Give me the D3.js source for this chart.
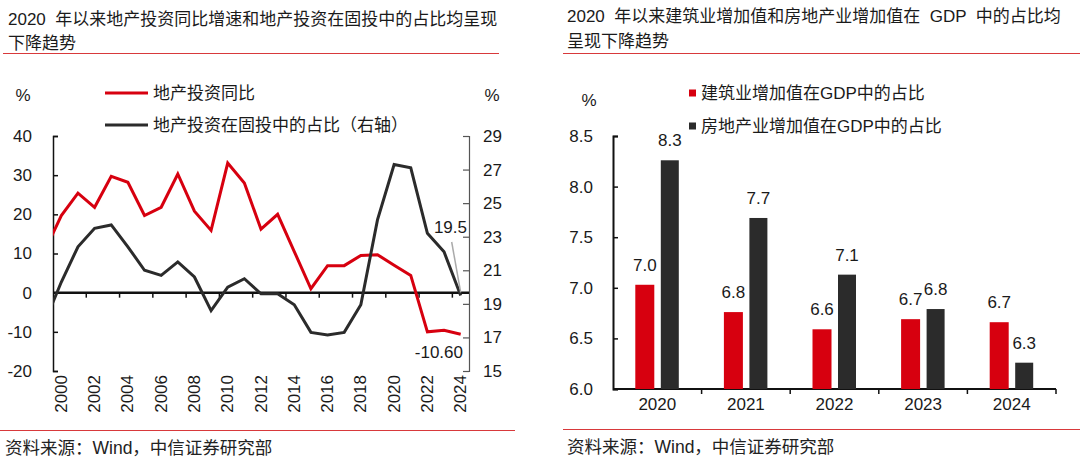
<!DOCTYPE html>
<html>
<head>
<meta charset="utf-8">
<script src="https://cdn.jsdelivr.net/npm/d3@7"></script>
<style>
  html, body { margin: 0; padding: 0; background: #fff; }
  svg { display: block; font-family: "Liberation Sans", Arial, "Noto Sans CJK SC", sans-serif; }
</style>
</head>
<body>
<svg id="chart" width="1080" height="464"></svg>
<script>
// ---------- Data: left chart ----------
const years = [1999,2000,2001,2002,2003,2004,2005,2006,2007,2008,2009,2010,2011,2012,2013,2014,2015,2016,2017,2018,2019,2020,2021,2022,2023,2024];
const invGrowth = [10.6,19.7,25.4,21.8,29.7,28.2,19.7,21.8,30.3,20.8,15.9,33.1,28.0,16.2,20.0,10.5,1.0,6.9,6.9,9.5,9.7,7.0,4.4,-10.0,-9.6,-10.6];
const invShare = [17.9,20.3,22.4,23.5,23.7,22.4,21.0,20.7,21.5,20.6,18.6,20.0,20.5,19.6,19.6,18.95,17.3,17.15,17.3,18.95,24.0,27.3,27.1,23.2,22.1,19.5];
const xLabelYears = [2000,2002,2004,2006,2008,2010,2012,2014,2016,2018,2020,2022,2024];
const leftTicks = [-20,-10,0,10,20,30,40];
const rightTicks = [15,17,19,21,23,25,27,29];
const leftTitle = ["2020  年以来地产投资同比增速和地产投资在固投中的占比均呈现", "下降趋势"];
const leftLegend = ["地产投资同比", "地产投资在固投中的占比（右轴）"];

// ---------- Data: right chart ----------
const barYears = ["2020","2021","2022","2023","2024"];
const constructionShare = [7.03,6.76,6.59,6.69,6.66];
const realEstateShare = [8.26,7.69,7.13,6.79,6.26];
const barTicks = [6.0,6.5,7.0,7.5,8.0,8.5];
const rightTitle = ["2020  年以来建筑业增加值和房地产业增加值在  GDP  中的占比均", "呈现下降趋势"];
const rightLegend = ["建筑业增加值在GDP中的占比", "房地产业增加值在GDP中的占比"];
const sourceText = "资料来源：Wind，中信证券研究部";

const RED = "#d7000f", DARK = "#2b2b2b", RULE = "#d8393b", TXT = "#1a1a1a";
const svg = d3.select("#chart");

// ---------- Titles, rules, sources ----------
function titleBlock(x, lines, y0) {
  lines.forEach((t, i) => {
    svg.append("text").attr("x", x).attr("y", y0 + i * 24.5)
      .attr("font-size", 17).attr("fill", TXT).style("white-space", "pre").text(t);
  });
}
titleBlock(8, leftTitle, 24.5);
titleBlock(567, rightTitle, 22);
svg.append("line").attr("x1", 3).attr("x2", 499).attr("y1", 53.5).attr("y2", 53.5).attr("stroke", RULE).attr("stroke-width", 1.2);
svg.append("line").attr("x1", 563).attr("x2", 1080).attr("y1", 53.5).attr("y2", 53.5).attr("stroke", RULE).attr("stroke-width", 1.2);
svg.append("line").attr("x1", 0).attr("x2", 515).attr("y1", 430.5).attr("y2", 430.5).attr("stroke", RULE).attr("stroke-width", 1.2);
svg.append("line").attr("x1", 563).attr("x2", 1080).attr("y1", 429.5).attr("y2", 429.5).attr("stroke", RULE).attr("stroke-width", 1.2);
svg.append("text").attr("x", 5).attr("y", 454).attr("font-size", 17.5).attr("fill", "#222").text(sourceText);
svg.append("text").attr("x", 567).attr("y", 453).attr("font-size", 17.5).attr("fill", "#222").text(sourceText);

// ---------- Left chart ----------
const L = { left: 53, right: 469, top: 136, bottom: 371 };
const x = d3.scaleLinear().domain([1999.5, 2024.5]).range([L.left, L.right]);
const yL = d3.scaleLinear().domain([-20, 40]).range([L.bottom, L.top]);
const yR = d3.scaleLinear().domain([15, 29]).range([L.bottom, L.top]);

svg.append("defs").append("clipPath").attr("id", "clipL")
  .append("rect").attr("x", L.left).attr("y", 0).attr("width", L.right - L.left).attr("height", 464);

// left y axis
const gyl = svg.append("g").attr("transform", `translate(${L.left},0)`)
  .call(d3.axisLeft(yL).tickValues(leftTicks).tickSize(-5).tickPadding(21).tickFormat(d => String(d)));
gyl.select(".domain").attr("stroke", "#111").attr("stroke-width", 1.5);
gyl.selectAll(".tick line").attr("stroke", "#111").attr("stroke-width", 1.5);
gyl.selectAll("text").attr("font-size", 17).attr("fill", TXT).attr("font-family", "Liberation Sans, Arial");

// right y axis
const gyr = svg.append("g").attr("transform", `translate(${L.right},0)`)
  .call(d3.axisRight(yR).tickValues(rightTicks).tickSize(-6).tickPadding(14).tickFormat(d => String(d)));
gyr.select(".domain").attr("stroke", "#555").attr("stroke-width", 1.2);
gyr.selectAll(".tick line").attr("stroke", "#555").attr("stroke-width", 1.2);
gyr.selectAll("text").attr("font-size", 17).attr("fill", TXT).attr("font-family", "Liberation Sans, Arial");

// x axis at zero
const y0 = yL(0);
svg.append("line").attr("x1", L.left).attr("x2", L.right).attr("y1", y0).attr("y2", y0)
  .attr("stroke", "#111").attr("stroke-width", 2.5);
svg.selectAll(".xtick").data(xLabelYears.slice(0, -1)).enter().append("line")
  .attr("x1", d => x(d + 1.5)).attr("x2", d => x(d + 1.5))
  .attr("y1", y0).attr("y2", y0 + 5).attr("stroke", "#111").attr("stroke-width", 1.5);
svg.selectAll(".xlab").data(xLabelYears).enter().append("text")
  .attr("transform", d => `translate(${x(d)},375) rotate(-90)`)
  .attr("text-anchor", "end").attr("dominant-baseline", "central")
  .attr("font-size", 17).attr("fill", TXT).text(d => d);

// lines
const lineL = d3.line().x((d, i) => x(years[i])).y(d => yL(d));
const lineR = d3.line().x((d, i) => x(years[i])).y(d => yR(d));
const gLines = svg.append("g").attr("clip-path", "url(#clipL)");
gLines.append("path").attr("d", lineL(invGrowth)).attr("fill", "none")
  .attr("stroke", RED).attr("stroke-width", 3).attr("stroke-linejoin", "miter");
gLines.append("path").attr("d", lineR(invShare)).attr("fill", "none")
  .attr("stroke", DARK).attr("stroke-width", 3).attr("stroke-linejoin", "miter");

// annotations
const lastI = years.length - 1;
svg.append("line").attr("x1", x(years[lastI]) - 9).attr("y1", 242)
  .attr("x2", x(years[lastI])).attr("y2", yR(invShare[lastI]) - 3)
  .attr("stroke", "#aaa").attr("stroke-width", 1.5);
svg.append("text").attr("x", 467).attr("y", 233).attr("text-anchor", "end")
  .attr("font-size", 17).attr("fill", TXT).text(invShare[lastI].toFixed(1));
svg.append("text").attr("x", 463).attr("y", 358).attr("text-anchor", "end")
  .attr("font-size", 17).attr("fill", TXT).text(invGrowth[lastI].toFixed(2));

// units
svg.append("text").attr("x", 23).attr("y", 101).attr("text-anchor", "middle").attr("font-size", 17).attr("fill", TXT).text("%");
svg.append("text").attr("x", 492).attr("y", 101).attr("text-anchor", "middle").attr("font-size", 17).attr("fill", TXT).text("%");

// legend
[[RED, 93], [DARK, 125]].forEach(([c, yy], i) => {
  svg.append("line").attr("x1", 105).attr("x2", 148).attr("y1", yy).attr("y2", yy).attr("stroke", c).attr("stroke-width", 3);
  svg.append("text").attr("x", 153).attr("y", yy + 6).attr("font-size", 17).attr("fill", TXT).text(leftLegend[i]);
});

// ---------- Right chart ----------
const B = { left: 613, right: 1056, top: 136, bottom: 389 };
const xb = d3.scaleBand().domain(barYears).range([B.left, B.right]).padding(0);
const yb = d3.scaleLinear().domain([6.0, 8.5]).range([B.bottom, B.top]);

const gyb = svg.append("g").attr("transform", `translate(${B.left},0)`)
  .call(d3.axisLeft(yb).tickValues(barTicks).tickSize(-5).tickPadding(20).tickFormat(d3.format(".1f")));
gyb.select(".domain").attr("stroke", "#111").attr("stroke-width", 2);
gyb.selectAll(".tick line").attr("stroke", "#111").attr("stroke-width", 1.5);
gyb.selectAll("text").attr("font-size", 17).attr("fill", TXT).attr("font-family", "Liberation Sans, Arial");

const gxb = svg.append("g").attr("transform", `translate(0,${B.bottom})`)
  .call(d3.axisBottom(xb).tickSize(0).tickPadding(9));
gxb.select(".domain").remove();
gxb.selectAll("text").attr("font-size", 17).attr("fill", TXT).attr("font-family", "Liberation Sans, Arial");

svg.append("line").attr("x1", B.left).attr("x2", B.right).attr("y1", B.bottom).attr("y2", B.bottom)
  .attr("stroke", "#111").attr("stroke-width", 2);
const bounds = barYears.map(d => xb(d)).concat([B.right]);
svg.selectAll(".btick").data(bounds.slice(1)).enter().append("line")
  .attr("x1", d => d).attr("x2", d => d).attr("y1", B.bottom).attr("y2", B.bottom + 5)
  .attr("stroke", "#111").attr("stroke-width", 1.5);

const bw = xb.bandwidth();
const barSeries = [
  { vals: constructionShare, color: RED, off: -22, w: 19 },
  { vals: realEstateShare, color: DARK, off: 3.5, w: 18 }
];
barSeries.forEach(s => {
  const g = svg.append("g");
  g.selectAll("rect").data(s.vals).enter().append("rect")
    .attr("x", (d, i) => xb(barYears[i]) + bw / 2 + s.off)
    .attr("width", s.w)
    .attr("y", d => yb(d)).attr("height", d => B.bottom - yb(d))
    .attr("fill", s.color);
  g.selectAll("text").data(s.vals).enter().append("text")
    .attr("x", (d, i) => xb(barYears[i]) + bw / 2 + s.off + s.w / 2)
    .attr("y", d => yb(d) - 14)
    .attr("text-anchor", "middle").attr("font-size", 17).attr("fill", TXT)
    .text(d => d.toFixed(1));
});

svg.append("text").attr("x", 589).attr("y", 106).attr("text-anchor", "middle").attr("font-size", 17).attr("fill", TXT).text("%");

[[RED, 93], [DARK, 126]].forEach(([c, yy], i) => {
  svg.append("rect").attr("x", 689).attr("y", yy - 3.5).attr("width", 7).attr("height", 7).attr("fill", c);
  svg.append("text").attr("x", 701).attr("y", yy + 6).attr("font-size", 17).attr("fill", TXT).text(rightLegend[i]);
});
</script>
</body>
</html>
